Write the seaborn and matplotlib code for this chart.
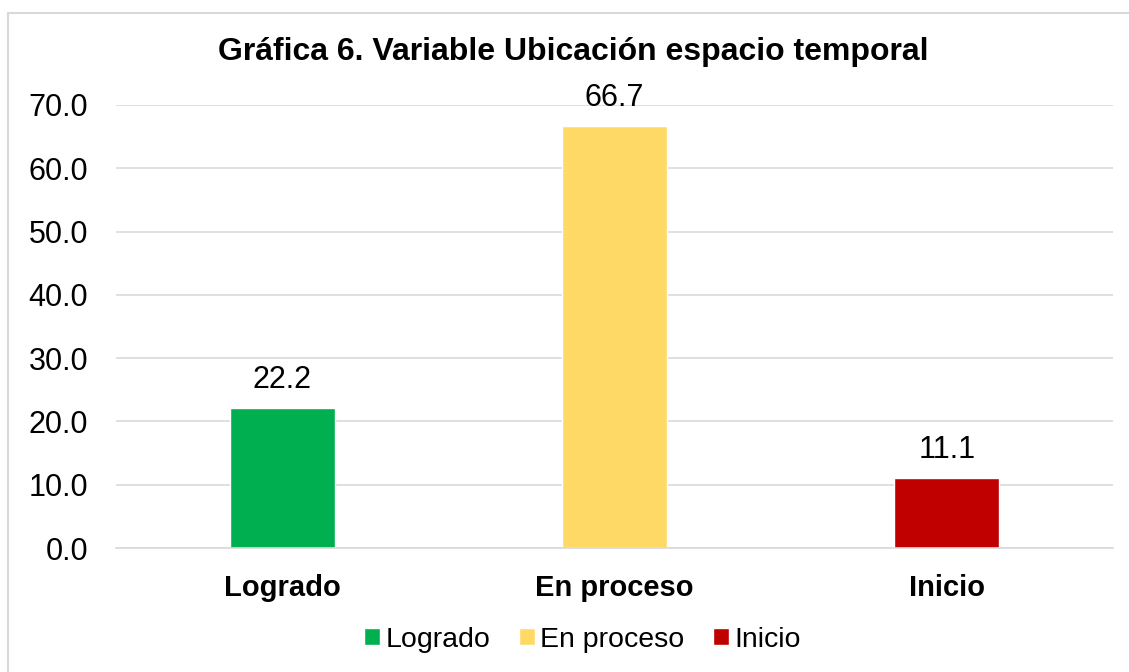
import matplotlib
matplotlib.use("Agg")
import matplotlib.pyplot as plt
import seaborn as sns
import pandas as pd
from matplotlib.patches import Rectangle, Patch

categories = ["Logrado", "En proceso", "Inicio"]
values = [22.2, 66.7, 11.1]
colors = ["#00B050", "#FFD966", "#C00000"]
yticks = [0, 10, 20, 30, 40, 50, 60, 70]

sns.set_theme(style="white")
plt.rcParams["font.family"] = ["Liberation Sans", "DejaVu Sans"]

df = pd.DataFrame({"categoria": categories, "valor": values})

fig = plt.figure(figsize=(11.29, 6.72), dpi=100)
ax = fig.add_axes([0.1027, 0.1845, 0.8831, 0.6593])

sns.barplot(data=df, x="categoria", y="valor", hue="categoria",
            palette=colors, width=0.316, legend=False, ax=ax, saturation=1)

ax.set_ylim(0, 70)
ax.set_yticks(yticks)
ax.set_yticklabels([f"{t:.1f}" for t in yticks], fontsize=22, color="black")
ax.yaxis.grid(True, color="#D9D9D9", linewidth=1.2)
ax.set_axisbelow(True)
for s in ["top", "right", "left"]:
    ax.spines[s].set_visible(False)
ax.spines["bottom"].set_color("#D9D9D9")
ax.spines["bottom"].set_linewidth(1.2)
ax.tick_params(axis="y", length=0, pad=20)
ax.set_xticks(range(len(categories)))
ax.set_xticklabels(categories, fontsize=21, fontweight="bold", color="black")
ax.tick_params(axis="x", length=0, pad=19)
ax.set_xlabel("")
ax.set_ylabel("")

for i, v in enumerate(values):
    ax.text(i, v + 2.0, f"{v:.1f}", ha="center", va="bottom", fontsize=22, color="black")

fig.text(0.508, 0.923, "Gráfica 6. Variable Ubicación espacio temporal",
         ha="center", va="center", fontsize=23, fontweight="bold", color="black")

handles = [Patch(facecolor=c, label=l) for c, l in zip(colors, categories)]
fig.legend(handles=handles, loc="center", bbox_to_anchor=(0.516, 0.048), ncol=3,
           frameon=False, fontsize=20.5, handlelength=0.55, handleheight=0.55,
           handletextpad=0.2, columnspacing=1.0, labelcolor="black")

fig.patches.append(Rectangle((8 / 1129, -0.1), 1.2, 1 - 13 / 672 + 0.1,
                             transform=fig.transFigure, fill=False,
                             edgecolor="#D9D9D9", linewidth=1.5))

fig.savefig("out.png", dpi=100, facecolor="white")
